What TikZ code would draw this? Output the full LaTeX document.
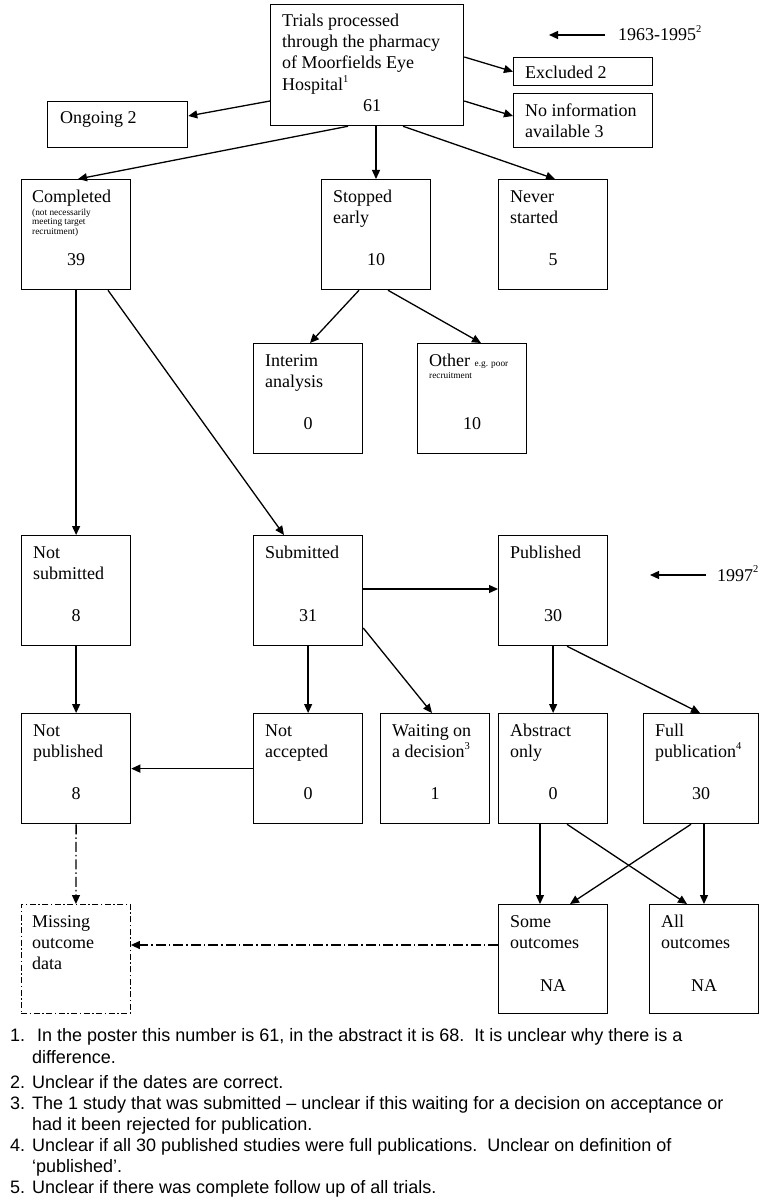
\documentclass[tikz,border=0pt]{standalone}
\usepackage{fontspec}
\setmainfont{Liberation Serif}
\newfontfamily\notefont{Liberation Sans}
\usetikzlibrary{arrows.meta}
\newcommand\ml[1]{\begin{tabular}[t]{@{}l@{}}#1\end{tabular}}
\newcommand\sups[1]{\raisebox{0.45em}{\fontsize{10.5}{10.5}\selectfont #1}}
\newcommand\sm{\fontsize{9.3}{9.7}\selectfont}
\begin{document}
\begin{tikzpicture}[x=1pt,y=-1pt,
  box/.style={draw, line width=1.25pt, anchor=north west, inner sep=0, minimum width=109pt, minimum height=110pt},
  dbox/.style={draw, line width=0.9pt, dash pattern=on 6pt off 2.5pt on 1.5pt off 2.5pt, anchor=north west, inner sep=0, minimum width=109pt, minimum height=109pt},
  arr/.style={line width=1.3pt, -{Triangle[length=9pt,width=8pt]}},
  ddarr/.style={line width=1.3pt, dash pattern=on 10pt off 3pt on 1.5pt off 3pt, -{Triangle[length=9pt,width=8pt]}},
  txt/.style={font=\fontsize{18}{21}\selectfont, inner sep=0, anchor=base west},
  num/.style={font=\fontsize{18}{21}\selectfont, inner sep=0, anchor=base},
  note/.style={font=\notefont\fontsize{18}{21.5}\selectfont, inner sep=0, anchor=base west}]
\useasboundingbox[fill=white] (0,0) rectangle (763,1201);

% ---- boxes ----
\node[box, minimum width=193pt, minimum height=121pt] (T) at (270,4) {};
\node[box, minimum width=140pt, minimum height=46pt] (ongoing) at (47,101) {};
\node[box, minimum width=139pt, minimum height=28pt] (excluded) at (513,57) {};
\node[box, minimum width=139pt, minimum height=54pt] (noinfo) at (513,93) {};

\node[box] (completed) at (21,179) {};
\node[box] (stopped) at (321,179) {};
\node[box] (never) at (498,179) {};

\node[box] (interim) at (253,343) {};
\node[box] (other) at (417,343) {};

\node[box] (notsub) at (21,535) {};
\node[box] (submitted) at (253,535) {};
\node[box] (published) at (498,535) {};

\node[box] (notpub) at (21,713) {};
\node[box] (notacc) at (253,713) {};
\node[box] (waiting) at (380,713) {};
\node[box] (abstract) at (498,713) {};
\node[box, minimum width=115pt] (full) at (643,713) {};

\node[dbox] (missing) at (21,904) {};
\node[box, minimum height=109pt] (some) at (498,904) {};
\node[box, minimum height=109pt] (all) at (649,904) {};

% ---- texts ----
\node[txt] (T-t) at ([shift={(12,23)}]T.north west) {\ml{Trials processed\\through the pharmacy\\of Moorfields Eye\\Hospital\sups{1}}};
\node[num] (T-n) at (372,112) {61};
\node[txt] (ongoing-t) at (60,124) {Ongoing 2};
\node[txt] (excluded-t) at (525,79) {Excluded 2};
\node[txt] (noinfo-t) at (525,117) {\ml{No information\\available 3}};

\node[txt] (d1963) at (618,41) {1963-1995\sups{2}};
\coordinate (a1963s) at (605,35);
\coordinate (a1963e) at (549,35);
\node[txt] (d1997) at (717,581) {1997\sups{2}};
\coordinate (a1997s) at (706,575);
\coordinate (a1997e) at (650,575);

\node[txt] (completed-t) at ([shift={(11,23)}]completed.north west) {Completed};
\node[txt, font=\sm] (completed-s) at ([shift={(11,36)}]completed.north west) {\ml{(not necessarily\\meeting target\\recruitment)}};
\node[num] (completed-n) at ([shift={(0,86)}]completed.north) {39};

\node[txt] (stopped-t) at ([shift={(12,23)}]stopped.north west) {\ml{Stopped\\early}};
\node[num] (stopped-n) at ([shift={(0,86)}]stopped.north) {10};
\node[txt] (never-t) at ([shift={(12,23)}]never.north west) {\ml{Never\\started}};
\node[num] (never-n) at ([shift={(0,86)}]never.north) {5};

\node[txt] (interim-t) at ([shift={(12,23)}]interim.north west) {\ml{Interim\\analysis}};
\node[num] (interim-n) at ([shift={(0,86)}]interim.north) {0};
\node[txt] (other-t) at ([shift={(12,23)}]other.north west) {Other {\sm e.g. poor}};
\node[txt, font=\sm] (other-s) at ([shift={(12,35)}]other.north west) {recruitment};
\node[num] (other-n) at ([shift={(0,86)}]other.north) {10};

\node[txt] (notsub-t) at ([shift={(12,23)}]notsub.north west) {\ml{Not\\submitted}};
\node[num] (notsub-n) at ([shift={(0,86)}]notsub.north) {8};
\node[txt] (submitted-t) at ([shift={(12,23)}]submitted.north west) {Submitted};
\node[num] (submitted-n) at ([shift={(0,86)}]submitted.north) {31};
\node[txt] (published-t) at ([shift={(12,23)}]published.north west) {Published};
\node[num] (published-n) at ([shift={(0,86)}]published.north) {30};

\node[txt] (notpub-t) at ([shift={(12,23)}]notpub.north west) {\ml{Not\\published}};
\node[num] (notpub-n) at ([shift={(0,86)}]notpub.north) {8};
\node[txt] (notacc-t) at ([shift={(12,23)}]notacc.north west) {\ml{Not\\accepted}};
\node[num] (notacc-n) at ([shift={(0,86)}]notacc.north) {0};
\node[txt] (waiting-t) at ([shift={(12,23)}]waiting.north west) {\ml{Waiting on\\a decision\sups{3}}};
\node[num] (waiting-n) at ([shift={(0,86)}]waiting.north) {1};
\node[txt] (abstract-t) at ([shift={(12,23)}]abstract.north west) {\ml{Abstract\\only}};
\node[num] (abstract-n) at ([shift={(0,86)}]abstract.north) {0};
\node[txt] (full-t) at ([shift={(12,23)}]full.north west) {\ml{Full\\publication\sups{4}}};
\node[num] (full-n) at ([shift={(0,86)}]full.north) {30};

\node[txt] (missing-t) at ([shift={(11,23)}]missing.north west) {\ml{Missing\\outcome\\data}};
\node[txt] (some-t) at ([shift={(12,23)}]some.north west) {\ml{Some\\outcomes}};
\node[num] (some-n) at ([shift={(0,87)}]some.north) {NA};
\node[txt] (all-t) at ([shift={(12,23)}]all.north west) {\ml{All\\outcomes}};
\node[num] (all-n) at ([shift={(0,87)}]all.north) {NA};

% ---- connectors ----
\draw[arr] (a1963s) -- (a1963e);
\draw[arr] (a1997s) -- (a1997e);
\draw[arr] (T.west |- 0,101) -- (ongoing.east |- 0,116);
\draw[arr] (T.east |- 0,57) -- (excluded.west);
\draw[arr] (T.east |- 0,101) -- (noinfo.west |- 0,116);
\draw[arr] (T.south -| 348,0) -- (completed.north -| 78,0);
\draw[arr] (T.south -| 376,0) -- (stopped.north -| 376,0);
\draw[arr] (T.south -| 403,0) -- (never.north -| 555,0);
\draw[arr] (stopped.south -| 359,0) -- (interim.north -| 310,0);
\draw[arr] (stopped.south -| 388,0) -- (other.north -| 481,0);
\draw[arr] (completed.south) -- (notsub.north);
\draw[arr] (completed.south -| 108,0) -- (submitted.north -| 284,0);
\draw[arr] (submitted.east |- 0,589) -- (published.west |- 0,589);
\draw[arr] (notsub.south) -- (notpub.north);
\draw[arr] (submitted.south) -- (notacc.north);
\draw[arr] (submitted.east |- 0,628) -- (waiting.north -| 432,0);
\draw[arr] (notacc.west) -- (notpub.east);
\draw[arr] (published.south) -- (abstract.north);
\draw[arr] (published.south -| 567,0) -- (full.north -| 700,0);
\draw[arr] (abstract.south -| 540,0) -- (some.north -| 540,0);
\draw[arr] (abstract.south -| 567,0) -- (all.north -| 687,0);
\draw[arr] (full.south -| 691,0) -- (some.north -| 570,0);
\draw[arr] (full.south -| 704,0) -- (all.north -| 704,0);
\draw[ddarr] (notpub.south) -- (missing.north);
\draw[ddarr] (some.west |- 0,945) -- (missing.east |- 0,945);

% ---- footnotes ----
\node[note] (n1) at (10,1041) {1.};
\node[note] (n1t) at (37,1041) {In the poster this number is 61, in the abstract it is 68.\ \ It is unclear why there is a};
\node[note] (n1u) at (32,1063) {difference.};
\node[note] (n2) at (10,1088) {2.};
\node[note] (n2t) at (32,1088) {Unclear if the dates are correct.};
\node[note] (n3) at (10,1109) {3.};
\node[note] (n3t) at (32,1109) {\ml{The 1 study that was submitted – unclear if this waiting for a decision on acceptance or\\had it been rejected for publication.}};
\node[note] (n4) at (10,1151) {4.};
\node[note] (n4t) at (32,1151) {\ml{Unclear if all 30 published studies were full publications.\ \ Unclear on definition of\\‘published’.}};
\node[note] (n5) at (10,1193) {5.};
\node[note] (n5t) at (32,1193) {Unclear if there was complete follow up of all trials.};
\end{tikzpicture}
\end{document}
